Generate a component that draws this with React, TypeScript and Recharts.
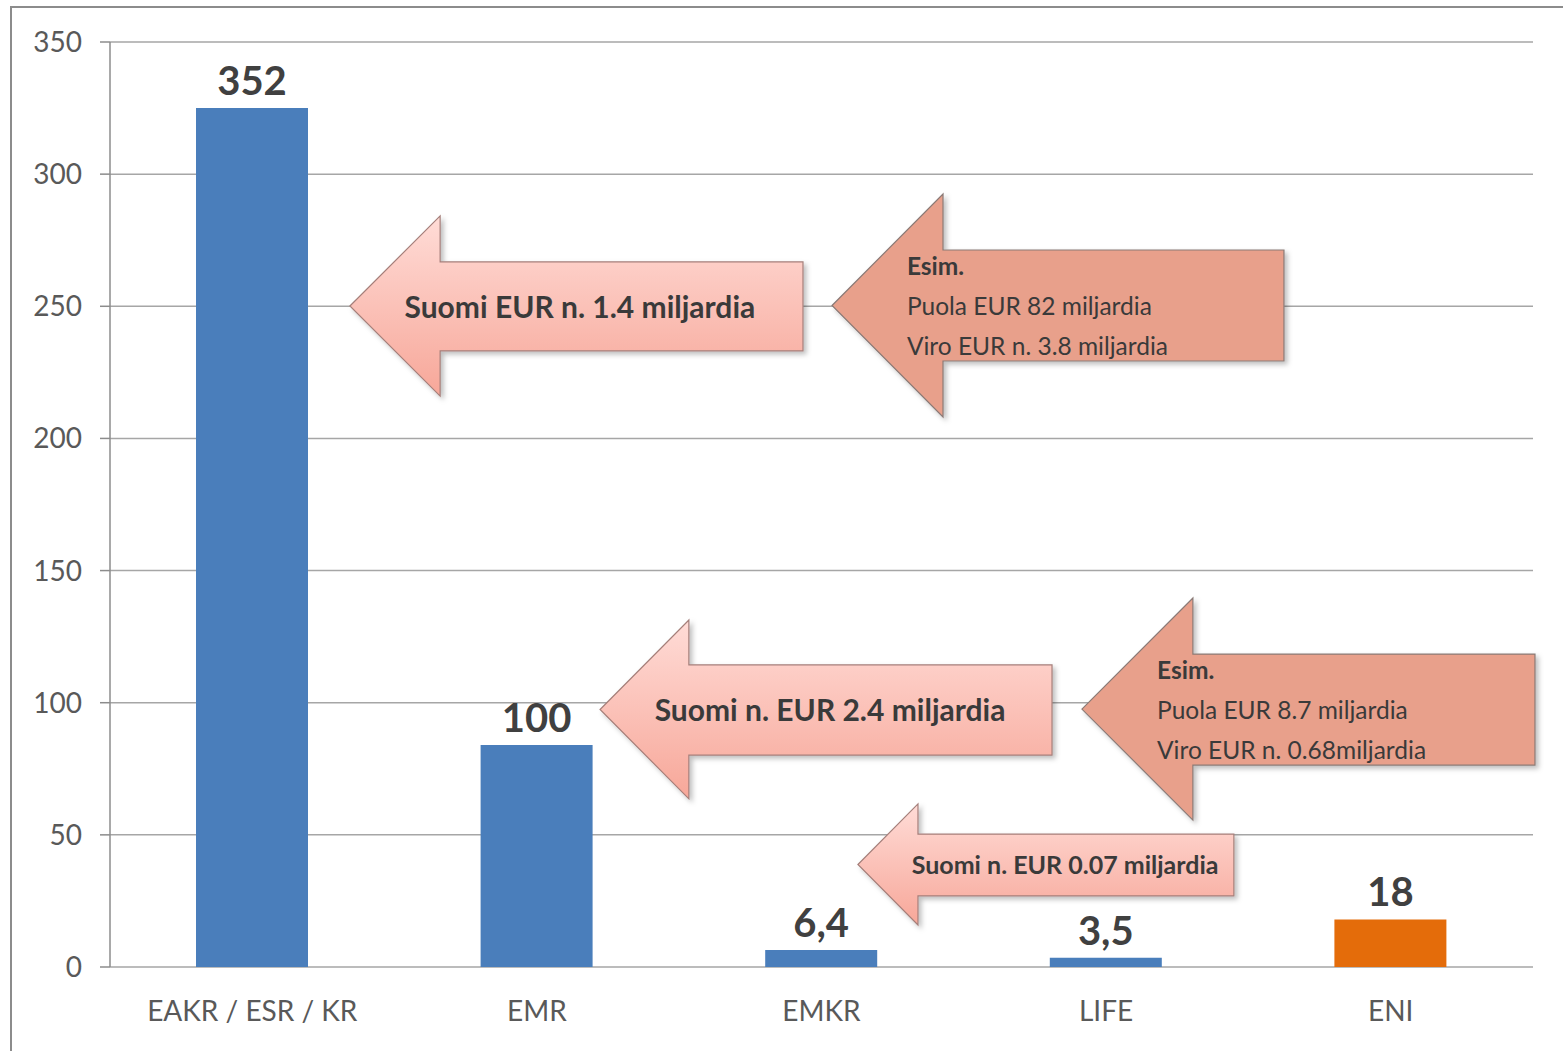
import React from "react";
import { BarChart, Bar, XAxis, YAxis, CartesianGrid, Cell, LabelList, ReferenceArea } from "recharts";

const categories = ["EAKR / ESR / KR", "EMR", "EMKR", "LIFE", "ENI"];
const values = [325, 84, 6.4, 3.5, 18];
const valueLabels = ["352", "100", "6,4", "3,5", "18"];
const yTicks = [0, 50, 100, 150, 200, 250, 300, 350];
const slotTicks = [0, 1, 2, 3, 4, 5];

// callout arrows, in axis units (x: category slots from the left, y: value)
const calloutLines = [
  ["Suomi EUR n. 1.4 miljardia"],
  ["Esim.", "Puola EUR 82 miljardia", "Viro EUR n. 3.8 miljardia"],
  ["Suomi n. EUR 2.4 miljardia"],
  ["Esim.", "Puola EUR 8.7 miljardia", "Viro EUR n. 0.68miljardia"],
  ["Suomi n. EUR 0.07 miljardia"],
];
const calloutTip = [0.843, 2.537, 1.722, 3.415, 2.628];
const calloutNeck = [1.16, 2.927, 2.034, 3.805, 2.839];
const calloutEnd = [2.435, 4.125, 3.31, 5.007, 3.949];
const calloutTop = [284.2, 292.5, 131.3, 139.6, 61.7];
const calloutBottom = [216.0, 208.1, 63.6, 55.6, 15.9];
const calloutBodyTop = [266.8, 271.3, 114.3, 118.4, 50.3];
const calloutBodyBottom = [233.1, 229.3, 80.2, 76.4, 26.9];
const calloutTextX = [1.651, 2.8, 2.53, 3.679, 3.356];

// slot = centre of each category on the 0..5 helper axis
const data = categories.map((name, i) => ({ name, slot: i + 0.5, value: values[i], label: valueLabels[i] }));

const barColors = ["#4a7ebb", "#4a7ebb", "#4a7ebb", "#4a7ebb", "#e46c0a"];
const noteFontSize = [30, 24.5, 30, 24.5, 25];

function Callout(props: any) {
  const { x, y, width, height, idx } = props;
  const tip = calloutTip[idx];
  const pxX = width / (calloutEnd[idx] - tip);
  const pxY = height / (calloutTop[idx] - calloutBottom[idx]);
  const neckX = x + (calloutNeck[idx] - tip) * pxX;
  const bTop = y + (calloutTop[idx] - calloutBodyTop[idx]) * pxY;
  const bBot = y + (calloutTop[idx] - calloutBodyBottom[idx]) * pxY;
  const midY = y + height / 2;
  const right = x + width;
  const pts = [
    [x, midY], [neckX, y], [neckX, bTop], [right, bTop],
    [right, bBot], [neckX, bBot], [neckX, y + height],
  ].map((p) => p.join(",")).join(" ");
  const lines = calloutLines[idx];
  const example = lines.length > 1;
  const tx = x + (calloutTextX[idx] - tip) * pxX;
  return (
    <g>
      <polygon
        points={pts}
        fill={example ? "#e8a08b" : "url(#pinkFill)"}
        stroke={example ? "#8a7a76" : "#a57f7a"}
        strokeWidth={1.2}
        filter="url(#arrowShadow)"
      />
      {lines.map((t, i) => (
        <text
          key={i}
          x={tx}
          y={midY + (i - (lines.length - 1) / 2) * 40}
          textAnchor={example ? "start" : "middle"}
          dominantBaseline="central"
          fontSize={noteFontSize[idx]}
          fontWeight={!example || i === 0 ? 700 : 400}
          fill="#3a3a3a"
        >
          {t}
        </text>
      ))}
    </g>
  );
}

export default function App() {
  return (
    <div style={{ position: "absolute", left: 0, top: 0, width: 1563, height: 1051, overflow: "hidden", background: "#fff", fontFamily: "Lato, 'Noto Sans', sans-serif" }}>
      <div style={{ position: "absolute", left: 10, top: 6, width: 1600, height: 1100, border: "2px solid #8c8c8c" }} />
      <div style={{ position: "absolute", left: 0, top: 0 }}>
        <BarChart width={1563} height={1051} data={data} margin={{ top: 42, right: 30, left: 0, bottom: 0 }}>
          <defs>
            <linearGradient id="pinkFill" x1="0" y1="0" x2="0" y2="1">
              <stop offset="0%" stopColor="#ffdcd7" />
              <stop offset="100%" stopColor="#f7a799" />
            </linearGradient>
            <filter id="arrowShadow" x="-10%" y="-10%" width="130%" height="140%">
              <feDropShadow dx="3" dy="3" stdDeviation="2.5" floodColor="#000" floodOpacity="0.25" />
            </filter>
          </defs>
          <CartesianGrid vertical={false} stroke="#a6a6a6" strokeWidth={1.5} />
          <XAxis
            xAxisId="slots"
            dataKey="slot"
            type="number"
            domain={[0, 5]}
            ticks={slotTicks}
            allowDataOverflow
            height={0}
            stroke="#8c8c8c"
            strokeWidth={1.5}
            tickSize={11}
            tick={() => <g />}
          />
          <XAxis
            dataKey="name"
            height={84}
            axisLine={false}
            tickLine={false}
            tickSize={0}
            tickMargin={34}
            tick={{ fill: "#595959", fontSize: 28 }}
          />
          <YAxis
            width={110}
            domain={[0, 350]}
            ticks={yTicks}
            stroke="#8c8c8c"
            strokeWidth={1.5}
            tickSize={10}
            tickMargin={18}
            tick={{ fill: "#595959", fontSize: 28 }}
          />
          <Bar dataKey="value" barSize={112} isAnimationActive={false}>
            {data.map((d, i) => (
              <Cell key={d.name} fill={barColors[i]} />
            ))}
            <LabelList dataKey="label" position="top" offset={13} fill="#404040" fontSize={40} fontWeight={700} />
          </Bar>
          {calloutLines.map((_, i) => (
            <ReferenceArea
              key={i}
              xAxisId="slots"
              x1={calloutTip[i]}
              x2={calloutEnd[i]}
              y1={calloutBottom[i]}
              y2={calloutTop[i]}
              ifOverflow="visible"
              shape={(p: any) => <Callout {...p} idx={i} />}
            />
          ))}
        </BarChart>
      </div>
    </div>
  );
}
